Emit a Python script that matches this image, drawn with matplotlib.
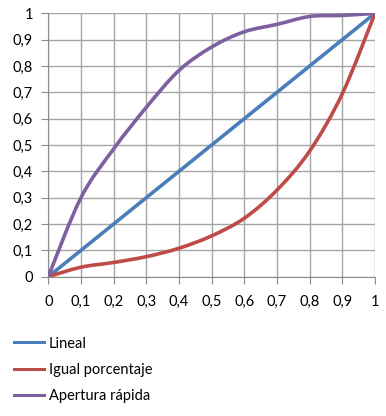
import matplotlib.pyplot as plt
from matplotlib.ticker import FuncFormatter
from matplotlib.path import Path
from matplotlib.patches import PathPatch
from matplotlib.lines import Line2D

# datos de las curvas
apertura = [0.0, 0.1, 0.2, 0.3, 0.4, 0.5, 0.6, 0.7, 0.8, 0.9, 1.0]
lineal = [0.0, 0.1, 0.2, 0.3, 0.4, 0.5, 0.6, 0.7, 0.8, 0.9, 1.0]
igual_porcentaje = [0.0, 0.036, 0.054, 0.076, 0.108, 0.155, 0.222, 0.329, 0.477, 0.695, 1.0]
apertura_rapida = [0.0, 0.30, 0.485, 0.643, 0.783, 0.872, 0.93, 0.958, 0.988, 0.992, 1.0]
etiquetas = ["Lineal", "Igual porcentaje", "Apertura rápida"]
colores = ["#4a7ebb", "#be4b48", "#7d60a0"]


# linea suavizada como en Excel (bezier tipo Catmull-Rom)
def camino_suave(x, y):
    pts = list(zip(x, y))
    n = len(pts)
    verts = [pts[0]]
    codes = [Path.MOVETO]
    for i in range(n - 1):
        p0 = pts[i - 1] if i > 0 else pts[i]
        p1 = pts[i]
        p2 = pts[i + 1]
        p3 = pts[i + 2] if i + 2 < n else pts[i + 1]
        c1 = (p1[0] + (p2[0] - p0[0]) / 6, p1[1] + (p2[1] - p0[1]) / 6)
        c2 = (p2[0] - (p3[0] - p1[0]) / 6, p2[1] - (p3[1] - p1[1]) / 6)
        verts += [c1, c2, p2]
        codes += [Path.CURVE4] * 3
    return Path(verts, codes)


plt.rcParams['font.family'] = ['Lato', 'DejaVu Sans']

fig = plt.figure(figsize=(3.86, 4.16), dpi=100)
ax = fig.add_axes([0.1251, 0.3349, 0.8464, 0.6331])

series = [lineal, igual_porcentaje, apertura_rapida]
manejadores = []
for datos, nombre, color in zip(series, etiquetas, colores):
    ax.add_patch(PathPatch(camino_suave(apertura, datos), fill=False, edgecolor=color,
                           lw=2.6, capstyle='round', joinstyle='round', zorder=3))
    manejadores.append(Line2D([], [], color=color, lw=2.2, label=nombre))

ax.set_xlim(0, 1)
ax.set_ylim(0, 1)
ticks = [i / 10 for i in range(11)]
ax.set_xticks(ticks)
ax.set_yticks(ticks)
coma = FuncFormatter(lambda v, p: ("%g" % round(v, 1)).replace(".", ","))
ax.xaxis.set_major_formatter(coma)
ax.yaxis.set_major_formatter(coma)
ax.grid(True, color="#a6a6a6", lw=1)
ax.set_axisbelow(True)
for lado in ["top", "right"]:
    ax.spines[lado].set_visible(False)
for lado in ["left", "bottom"]:
    ax.spines[lado].set_color("#8c8c8c")
ax.tick_params(axis="both", length=5, color="#8c8c8c", labelsize=10.5, colors="black")
ax.tick_params(axis="x", pad=8)
ax.tick_params(axis="y", pad=6)

fig.legend(handles=manejadores, loc="upper left", bbox_to_anchor=(0.02, 0.205), frameon=False,
           fontsize=10.5, handlelength=2.1, handletextpad=0.3, labelspacing=0.85,
           borderaxespad=0)

fig.savefig("out.png", dpi=100)
